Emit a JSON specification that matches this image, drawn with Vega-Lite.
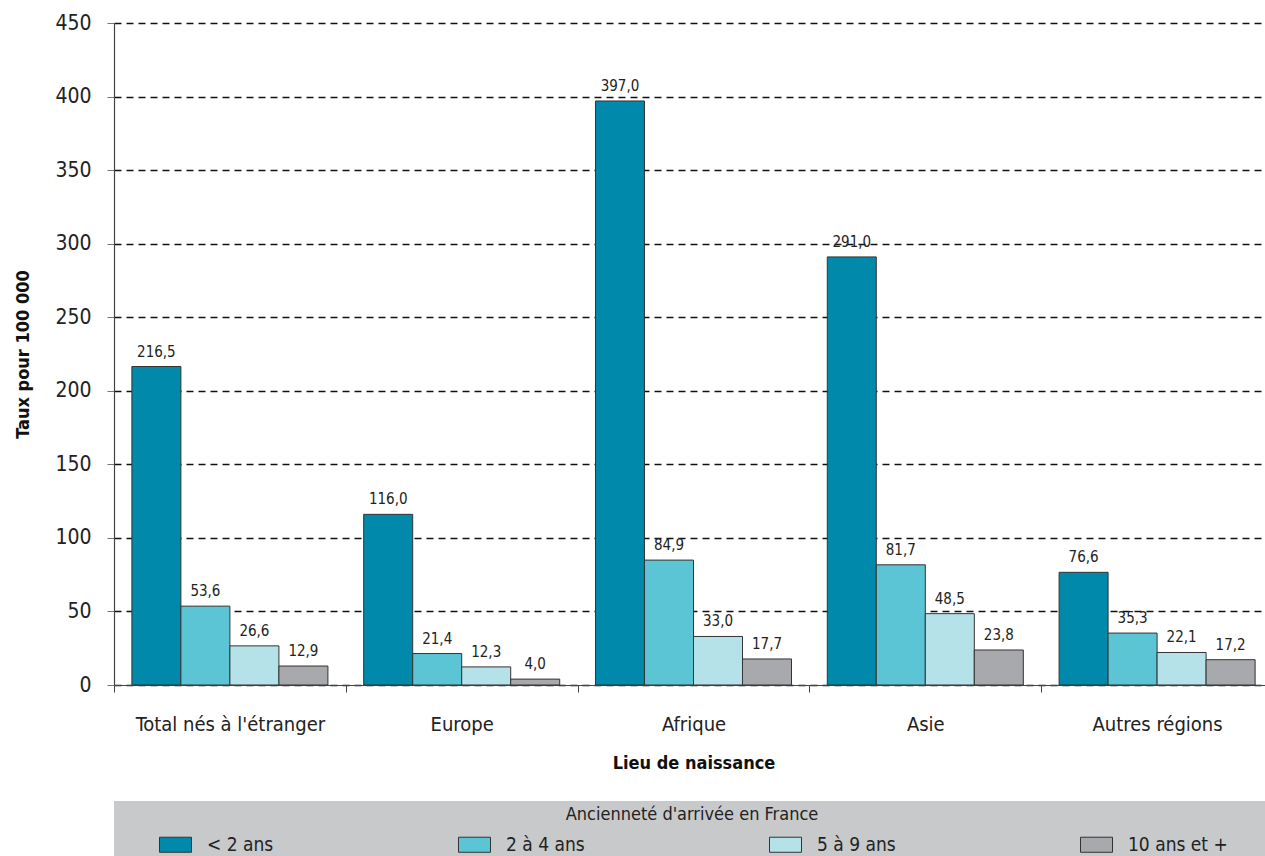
{
  "$schema": "https://vega.github.io/schema/vega-lite/v6.json",
  "width": 1151,
  "height": 662,
  "autosize": {"type": "none"},
  "padding": {"left": 114, "top": 23, "right": 0, "bottom": 171},
  "background": "white",
  "config": {
    "font": "Liberation Sans Narrow, DejaVu Sans Condensed, sans-serif",
    "locale": {"number": {"decimal": ",", "thousands": " ", "grouping": [3], "currency": ["", " €"]}},
    "view": {"stroke": null}
  },
  "data": {
    "values": [
      {"lieu": "Total nés à l'étranger", "anc": "< 2 ans", "taux": 216.5},
      {"lieu": "Total nés à l'étranger", "anc": "2 à 4 ans", "taux": 53.6},
      {"lieu": "Total nés à l'étranger", "anc": "5 à 9 ans", "taux": 26.6},
      {"lieu": "Total nés à l'étranger", "anc": "10 ans et +", "taux": 12.9},
      {"lieu": "Europe", "anc": "< 2 ans", "taux": 116.0},
      {"lieu": "Europe", "anc": "2 à 4 ans", "taux": 21.4},
      {"lieu": "Europe", "anc": "5 à 9 ans", "taux": 12.3},
      {"lieu": "Europe", "anc": "10 ans et +", "taux": 4.0},
      {"lieu": "Afrique", "anc": "< 2 ans", "taux": 397.0},
      {"lieu": "Afrique", "anc": "2 à 4 ans", "taux": 84.9},
      {"lieu": "Afrique", "anc": "5 à 9 ans", "taux": 33.0},
      {"lieu": "Afrique", "anc": "10 ans et +", "taux": 17.7},
      {"lieu": "Asie", "anc": "< 2 ans", "taux": 291.0},
      {"lieu": "Asie", "anc": "2 à 4 ans", "taux": 81.7},
      {"lieu": "Asie", "anc": "5 à 9 ans", "taux": 48.5},
      {"lieu": "Asie", "anc": "10 ans et +", "taux": 23.8},
      {"lieu": "Autres régions", "anc": "< 2 ans", "taux": 76.6},
      {"lieu": "Autres régions", "anc": "2 à 4 ans", "taux": 35.3},
      {"lieu": "Autres régions", "anc": "5 à 9 ans", "taux": 22.1},
      {"lieu": "Autres régions", "anc": "10 ans et +", "taux": 17.2}
    ]
  },
  "encoding": {
    "x": {
      "field": "lieu", "type": "nominal",
      "sort": ["Total nés à l'étranger", "Europe", "Afrique", "Asie", "Autres régions"],
      "scale": {"range": [0, 1159], "paddingInner": 0, "paddingOuter": 0},
      "axis": {
        "title": "Lieu de naissance",
        "titleFontSize": 18, "titleFontWeight": "bold", "titleColor": "#111", "titlePadding": 20,
        "labelFontSize": 20, "labelColor": "#222", "labelPadding": 22, "labelAngle": 0, "labelLimit": 400,
        "domainColor": "#444", "domainWidth": 1.2,
        "tickColor": "#444", "tickSize": 7, "tickBand": "extent", "ticks": true,
        "grid": false
      }
    },
    "xOffset": {
      "field": "anc", "type": "nominal",
      "sort": ["< 2 ans", "2 à 4 ans", "5 à 9 ans", "10 ans et +"],
      "scale": {"paddingInner": 0, "paddingOuter": 0.365}
    },
    "y": {
      "field": "taux", "type": "quantitative",
      "scale": {"domain": [0, 450], "nice": false},
      "axis": {
        "title": "Taux pour 100 000",
        "titleFontSize": 18, "titleFontWeight": "bold", "titleColor": "#111", "titlePadding": 22,
        "values": [0, 50, 100, 150, 200, 250, 300, 350, 400, 450],
        "format": "d",
        "labelFontSize": 21, "labelColor": "#222", "labelPadding": 16,
        "domainColor": "#444", "domainWidth": 1.2,
        "tickColor": "#777", "tickSize": 7,
        "grid": true, "gridColor": "#111", "gridDash": [7, 5], "gridWidth": 1.3
      }
    }
  },
  "layer": [
    {
      "mark": {"type": "bar", "stroke": "#333", "strokeWidth": 1},
      "encoding": {
        "fill": {
          "field": "anc", "type": "nominal",
          "sort": ["< 2 ans", "2 à 4 ans", "5 à 9 ans", "10 ans et +"],
          "scale": {"domain": ["< 2 ans", "2 à 4 ans", "5 à 9 ans", "10 ans et +"], "range": ["#0089ab", "#5bc5d5", "#b5e2e9", "#a7a9ac"]},
          "legend": {
            "title": "Ancienneté  d'arrivée en France",
            "orient": "none", "legendX": 0, "legendY": 778,
            "direction": "horizontal", "columns": 4, "columnPadding": 144,
            "fillColor": "#c8c9cb", "padding": 5,
            "titleFontSize": 18, "titleFontWeight": "normal", "titleColor": "#222", "titleLimit": 1000,
            "titleAnchor": "middle", "titleAlign": "center", "titlePadding": 4,
            "labelFontSize": 19, "labelColor": "#222", "symbolOffset": 40, "labelOffset": 15, "labelLimit": 400,
            "labelExpr": "indexof(datum.label, '10') == 0 ? datum.label + '\u2800\u2800\u2800' : datum.label",
            "symbolType": "M-1,-0.47H1V0.47H-1Z", "symbolSize": 1024,
            "symbolStrokeColor": "#333", "symbolStrokeWidth": 1
          }
        }
      }
    },
    {
      "mark": {"type": "text", "baseline": "bottom", "dy": -7, "fontSize": 15, "color": "#222"},
      "encoding": {"text": {"field": "taux", "type": "quantitative", "format": ".1f"}}
    }
  ]
}
